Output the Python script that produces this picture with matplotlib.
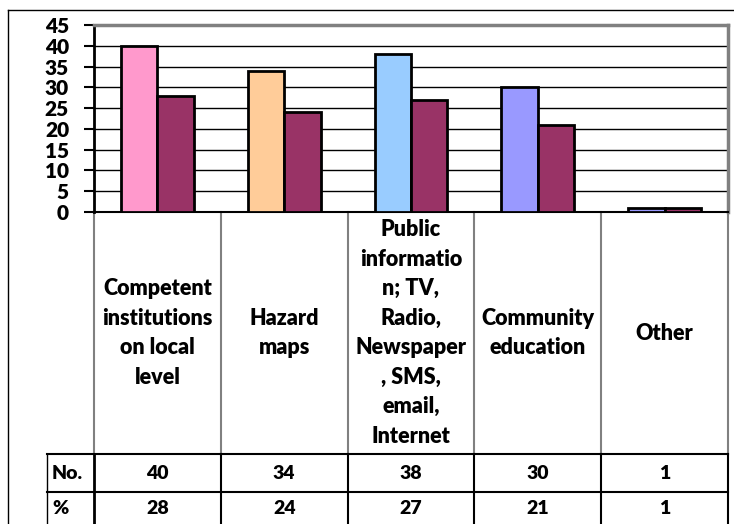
import matplotlib.pyplot as plt
from matplotlib.lines import Line2D

# Data
categories = [
    "Competent\ninstitutions\non local\nlevel",
    "Hazard\nmaps",
    "Public\ninformatio\nn; TV,\nRadio,\nNewspaper\n, SMS,\nemail,\nInternet",
    "Community\neducation",
    "Other",
]
counts = [40, 34, 38, 30, 1]
percents = [28, 24, 27, 21, 1]
row_labels = ["No.", "%"]
count_colors = ["#FF99CC", "#FFCC99", "#99CCFF", "#9999FF", "#9999FF"]
percent_color = "#993366"

plt.rcParams["font.family"] = ["Lato", "DejaVu Sans"]
W, H = 734, 524
fig = plt.figure(figsize=(W / 100, H / 100), dpi=100)
WEIGHT = "heavy"

# plot area in pixels
left, right, top, bottom = 94, 728, 25, 212
ax = fig.add_axes([left / W, 1 - bottom / H, (right - left) / W, (bottom - top) / H])

n = len(categories)
bw = 0.287
for i in range(n):
    ax.bar(i + 0.5 - bw / 2, counts[i], width=bw, color=count_colors[i],
           edgecolor="black", linewidth=2, zorder=3)
    ax.bar(i + 0.5 + bw / 2, percents[i], width=bw, color=percent_color,
           edgecolor="black", linewidth=2, zorder=3)

ax.set_xlim(0, n)
ax.set_ylim(0, 45)
ax.set_yticks(range(0, 46, 5))
ax.set_xticks([])
ax.tick_params(axis="y", length=7, width=1.5, pad=11, labelsize=15)
for lbl in ax.get_yticklabels():
    lbl.set_fontweight(WEIGHT)
ax.grid(axis="y", color="black", linewidth=1, zorder=0)
ax.spines["top"].set_color("#808080")
ax.spines["top"].set_linewidth(2.5)
ax.spines["right"].set_color("#808080")
ax.spines["right"].set_linewidth(2.5)
ax.spines["left"].set_linewidth(2)
ax.spines["bottom"].set_linewidth(1.5)

# table below the axes: x in data units, y in axes fraction
tr = ax.get_xaxis_transform()
ph = bottom - top
def yf(py):
    return -(py - bottom) / ph

label_bottom = 454
row1_bottom = 492
row2_bottom = 540
table_left = (47 - left) / ((right - left) / n)

# vertical separators in the category label area (gray)
for i in range(n + 1):
    ax.add_line(Line2D([i, i], [0, yf(label_bottom)], transform=tr, color="#808080",
                       linewidth=1.5, clip_on=False))
# table rows (black)
for i in range(n + 1):
    ax.add_line(Line2D([i, i], [yf(label_bottom), yf(row2_bottom)], transform=tr,
                       color="black", linewidth=1.5 if i else 2, clip_on=False))
ax.add_line(Line2D([table_left, table_left], [yf(label_bottom), yf(row2_bottom)],
                   transform=tr, color="black", linewidth=1, clip_on=False))
for py in [label_bottom, row1_bottom]:
    ax.add_line(Line2D([table_left, n], [yf(py), yf(py)], transform=tr,
                       color="black", linewidth=1.5, clip_on=False))

# category labels
for i, cat in enumerate(categories):
    ax.text(i + 0.5, yf((bottom + label_bottom) / 2), cat, transform=tr,
            ha="center", va="center", fontsize=15.5, fontweight=WEIGHT,
            linespacing=1.5)

# table values
rows = [counts, percents]
row_centers = [(label_bottom + row1_bottom) / 2, (row1_bottom + 524) / 2]
for r, vals in enumerate(rows):
    ax.text(table_left + 0.04, yf(row_centers[r]), row_labels[r], transform=tr,
            ha="left", va="center", fontsize=14, fontweight=WEIGHT)
    for i, v in enumerate(vals):
        ax.text(i + 0.5, yf(row_centers[r]), str(v), transform=tr,
                ha="center", va="center", fontsize=14, fontweight=WEIGHT)

# outer chart frame
fig.add_artist(Line2D([8 / W, 8 / W], [0, 1 - 10 / H], color="black", linewidth=1))
fig.add_artist(Line2D([8 / W, 1], [1 - 10 / H, 1 - 10 / H], color="black", linewidth=1))

fig.savefig("out.png", dpi=100)
